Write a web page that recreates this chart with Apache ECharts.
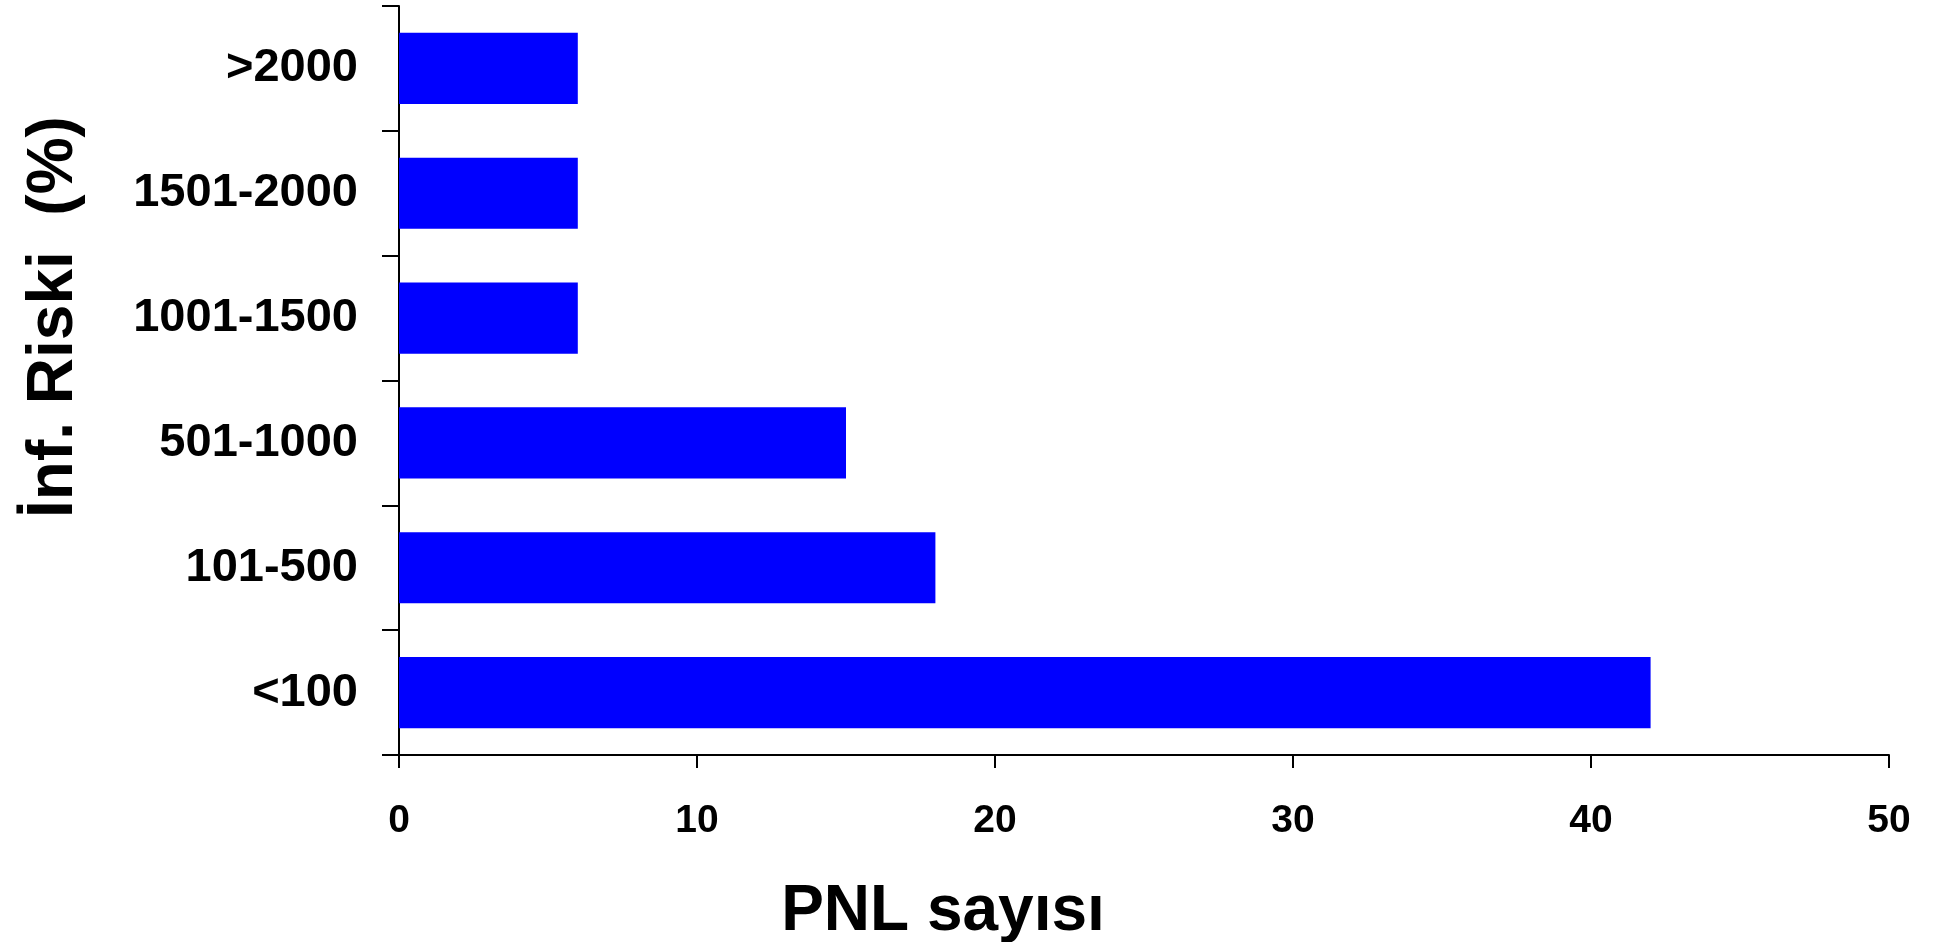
<!DOCTYPE html>
<html>
<head>
<meta charset="utf-8">
<script src="https://cdn.jsdelivr.net/npm/echarts@6/dist/echarts.min.js"></script>
<style>
  html, body { margin: 0; padding: 0; background: #fff; }
  #chart { width: 1935px; height: 942px; }
</style>
</head>
<body>
<div id="chart"></div>
<script>
// categories, bottom to top
const riskGroups = ["<100", "101-500", "501-1000", "1001-1500", "1501-2000", ">2000"];
// PNL count per risk group
const pnlCounts = [42, 18, 15, 6, 6, 6];
const xTicks = { min: 0, max: 50, interval: 10 };
const xTitle = "PNL sayısı";
const yTitle = "İnf. Riski  (%)";

const font = "Liberation Sans, Arial, sans-serif";

const chart = echarts.init(document.getElementById("chart"));
chart.setOption({
  animation: false,
  grid: { left: 399, right: 46, top: 6, bottom: 187 },
  xAxis: {
    type: "value",
    min: xTicks.min,
    max: xTicks.max,
    interval: xTicks.interval,
    splitLine: { show: false },
    axisLine: { show: true, lineStyle: { color: "#000", width: 2 } },
    axisTick: { show: true, length: 13, lineStyle: { color: "#000", width: 2 } },
    axisLabel: { color: "#000", fontSize: 39, fontWeight: "bold", fontFamily: font, margin: 47 },
  },
  yAxis: {
    type: "category",
    data: riskGroups,
    axisLine: { show: true, lineStyle: { color: "#000", width: 2 } },
    axisTick: { show: true, length: 17, lineStyle: { color: "#000", width: 2 } },
    axisLabel: { color: "#000", fontSize: 47, fontWeight: "bold", fontFamily: font, margin: 41 },
  },
  series: [
    {
      type: "bar",
      data: pnlCounts,
      barWidth: "57%",
      itemStyle: { color: "#0000ff" },
    },
  ],
  graphic: [
    {
      type: "text",
      x: 943,
      y: 912,
      style: {
        text: xTitle,
        font: "bold 64px " + font,
        fill: "#000",
        align: "center",
        verticalAlign: "middle",
      },
    },
    {
      type: "text",
      x: 54,
      y: 317,
      rotation: Math.PI / 2,
      style: {
        text: yTitle,
        font: "bold 64px " + font,
        fill: "#000",
        align: "center",
        verticalAlign: "middle",
      },
    },
  ],
});
</script>
</body>
</html>
